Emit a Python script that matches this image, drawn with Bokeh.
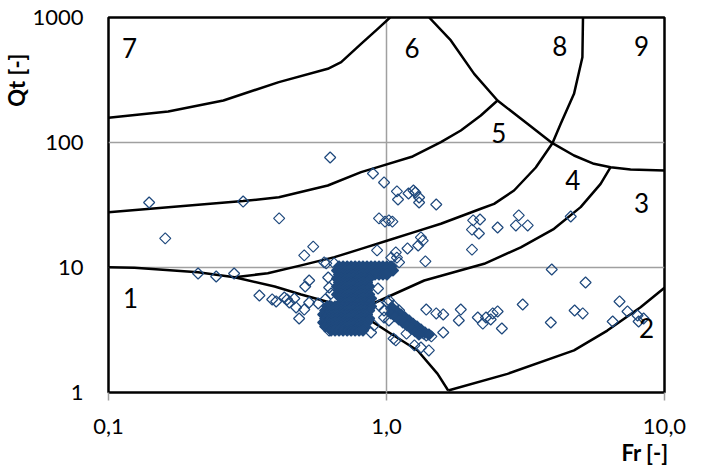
import math
from bokeh.plotting import figure
from bokeh.models import FixedTicker, Title
from bokeh.embed import file_html
from bokeh.resources import INLINE
from bokeh.core.properties import value

# ---- zone boundary curves (Fr [-], Qt [-]) ----
c67_fr = [0.1, 0.164, 0.259, 0.410, 0.615, 0.687, 0.810, 0.930, 1.03]
c67_qt = [158, 177, 217, 304, 389, 439, 616, 812, 1000]

c56_fr = [0.1, 0.305, 0.410, 0.615, 0.810, 0.930, 1.242, 1.569, 1.851, 2.184, 2.508]
c56_qt = [27.7, 34.0, 36.5, 45.3, 57.9, 63.5, 77.3, 100.6, 124.7, 164.4, 216.8]

c68_fr = [1.424, 1.704, 2.067, 2.508, 3.214, 3.952, 4.726, 5.573, 6.400, 7.549, 10.0]
c68_qt = [1000, 655, 354, 216.8, 141.1, 98.7, 78.7, 67.5, 63.5, 60.8, 59.7]

c45_fr = [0.284, 0.374, 0.493, 0.650, 0.810, 1.023, 1.258, 1.569, 2.184, 2.438,
          2.876, 3.443, 3.952, 4.233, 4.726, 5.066, 5.091]
c45_qt = [8.36, 9.00, 10.4, 12.1, 14.1, 16.6, 19.2, 22.4, 29.5, 32.3,
          41.3, 63.1, 98.7, 141.1, 245, 481, 1000]

c34_fr = [0.746, 0.904, 1.367, 2.245, 3.041, 4.005, 4.993, 5.891, 6.400]
c34_qt = [4.53, 5.20, 7.87, 10.7, 14.5, 20.4, 30.4, 46.7, 63.5]

c23_fr = [1.667, 2.724, 4.726, 6.228, 8.202, 10.0]
c23_qt = [1.037, 1.41, 2.17, 3.13, 4.81, 6.88]

c1_fr = [0.1, 0.124, 0.210, 0.284, 0.396, 0.493, 0.650, 0.856, 1.038, 1.294, 1.527, 1.667]
c1_qt = [10.06, 9.95, 9.17, 8.36, 7.05, 6.08, 5.13, 3.89, 2.95, 2.17, 1.41, 1.037]

# ---- zone numbers ----
zone_text = ["1", "2", "3", "4", "5", "6", "7", "8", "9"]
zone_fr = [0.120, 8.62, 8.27, 4.675, 2.535, 1.235, 0.119, 4.198, 8.27]
zone_qt = [5.75, 3.31, 33.1, 49.7, 120, 575, 575, 597, 597]

# ---- scattered CPT points ----
pts_fr = [0.140, 0.305, 0.411, 0.160, 0.506, 0.210, 0.244, 0.283, 0.627, 0.894,
          0.980, 0.940, 0.988, 1.02, 0.545, 0.925, 0.597, 0.648,
          1.09, 1.10, 1.20, 1.25, 1.27, 1.31, 1.31, 1.51, 1.05, 2.05,
          2.17, 2.03, 2.15, 2.51, 2.99, 2.92, 3.22, 2.03,
          1.33, 1.35, 1.30, 1.19, 1.08, 1.09, 1.04, 1.38, 1.11,
          4.60, 3.93, 5.20, 3.09, 3.90, 4.75, 5.08, 6.89, 7.36, 6.51, 8.00, 8.07, 8.41,
          1.39, 1.51, 1.60, 1.85, 1.82, 1.60, 2.13, 2.22, 2.28, 2.37, 2.41, 2.51, 2.60,
          0.932, 1.02, 1.06, 1.08, 1.42,
          1.04, 1.08, 1.13, 1.18, 1.23, 1.28, 1.33, 1.39, 1.45, 1.06, 1.11, 1.16,
          1.21, 1.26, 1.31, 1.36, 0.98,
          1.26, 1.33, 1.18,
          0.349, 0.388, 0.401, 0.429, 0.439, 0.447, 0.466, 0.473, 0.485, 0.506,
          0.527, 0.568, 0.602, 0.510, 0.527, 0.607, 0.617, 0.622, 0.632, 0.622,
          1.01, 0.980, 0.902, 0.880, 0.940, 1.02]
pts_qt = [33.1, 33.7, 24.7, 17.1, 12.5, 8.95, 8.47, 8.95, 75.9, 56.5,
          47.9, 24.7, 23.3, 23.8, 14.7, 13.7, 11.0, 10.8,
          40.6, 35.0, 39.1, 41.3, 39.8, 36.3, 33.1, 31.9, 23.3, 23.8,
          24.2, 20.1, 18.7, 20.9, 26.1, 21.7, 21.7, 13.9,
          17.4, 16.4, 15.0, 14.2, 13.2, 12.0, 12.0, 11.2, 11.0,
          25.6, 9.64, 7.59, 5.06, 3.63, 4.53, 4.29, 5.35, 4.45, 3.70, 4.13, 3.70, 3.91,
          4.61, 4.29, 4.21, 4.61, 3.77, 3.02, 3.98, 3.56, 3.98, 3.84, 4.29, 4.45, 3.25,
          6.79, 5.45, 2.70, 2.61, 2.17,
          4.70, 4.37, 4.13, 3.77, 3.44, 3.25, 3.02, 2.86, 2.81, 4.97, 4.53, 3.98,
          3.63, 3.31, 3.13, 2.96, 4.53,
          2.38, 2.29, 2.96,
          5.97, 5.55, 5.35, 5.75, 5.55, 5.25, 5.65, 4.79, 3.91, 4.61,
          5.25, 5.15, 5.55, 7.05, 7.87, 10.8, 8.32, 6.92, 6.19, 3.13,
          5.25, 3.98, 3.44, 3.02, 4.97, 3.77]

# ---- dense cluster of points (rows of equal Qt) ----
blob_qt = [10.19, 9.46, 8.79, 8.17, 7.59, 7.05, 6.55, 6.08, 5.65, 5.25,
           4.88, 4.53, 4.21, 3.91, 3.63, 3.37, 3.13]
blob_fr = [
    [0.675, 0.698, 0.722, 0.746, 0.771, 0.797, 0.823, 0.851, 0.880, 0.909, 0.940, 0.971, 1.004, 1.038],
    [0.664, 0.687, 0.710, 0.733, 0.758, 0.784, 0.810, 0.837, 0.866, 0.894, 0.925, 0.956, 0.988, 1.021, 1.055],
    [0.675, 0.698, 0.722, 0.746, 0.771, 0.797, 0.823, 0.851, 0.880, 0.909, 0.940, 0.971, 1.004],
    [0.664, 0.687, 0.710, 0.733, 0.758, 0.784, 0.810, 0.837, 0.866],
    [0.675, 0.698, 0.722, 0.746, 0.771, 0.797, 0.823, 0.851],
    [0.664, 0.687, 0.710, 0.733, 0.758, 0.784, 0.810, 0.837, 0.866],
    [0.675, 0.698, 0.722, 0.746, 0.771, 0.797, 0.823, 0.851],
    [0.664, 0.687, 0.710, 0.733, 0.758, 0.784, 0.810, 0.837, 0.866],
    [0.698, 0.722, 0.746, 0.771, 0.797, 0.823, 0.851, 0.880],
    [0.687, 0.710, 0.733, 0.758, 0.784, 0.810, 0.837, 0.866],
    [0.612, 0.632, 0.653, 0.675, 0.698, 0.722, 0.746, 0.771, 0.797, 0.823, 0.851, 0.880],
    [0.602, 0.622, 0.643, 0.664, 0.687, 0.710, 0.733, 0.758, 0.784, 0.810, 0.837, 0.866],
    [0.592, 0.612, 0.632, 0.653, 0.675, 0.698, 0.722, 0.746, 0.771, 0.797, 0.823, 0.851],
    [0.602, 0.622, 0.643, 0.664, 0.687, 0.710, 0.733, 0.758, 0.784, 0.810, 0.837, 0.866],
    [0.592, 0.612, 0.632, 0.653, 0.675, 0.698, 0.722, 0.746, 0.771, 0.797, 0.823, 0.851],
    [0.602, 0.622, 0.643, 0.664, 0.687, 0.710, 0.733, 0.758, 0.784, 0.810, 0.837],
    [0.632, 0.653, 0.675, 0.698, 0.722, 0.746, 0.771, 0.797, 0.823],
]

# ---- dense streak of points right of the cluster ----
streak_fr = [1.055, 1.091, 1.127, 1.165, 1.205, 1.245, 1.287, 1.330, 1.375, 1.421,
             1.038, 1.073, 1.109, 1.146, 1.185, 1.225, 1.266, 1.308]
streak_qt = [4.70, 4.45, 4.21, 3.98, 3.77, 3.56, 3.37, 3.19, 3.02, 2.91,
             4.29, 4.06, 3.84, 3.63, 3.44, 3.25, 3.08, 2.91]

dense_fr = list(streak_fr)
dense_qt = list(streak_qt)
for q, row in zip(blob_qt, blob_fr):
    dense_fr.extend(row)
    dense_qt.extend([q] * len(row))

FONT = "Lato"
BLUE = "#1F497D"
GRID = "#A0A0A0"

p = figure(width=704, height=473, x_axis_type="log", y_axis_type="log",
           x_range=(0.1, 10), y_range=(1, 1000),
           output_backend="svg", toolbar_location=None,
           min_border_left=107, min_border_right=40,
           min_border_top=17, min_border_bottom=81)
p.background_fill_color = "white"
p.border_fill_color = "white"
p.outline_line_color = "black"
p.outline_line_width = 2.5

p.xaxis.ticker = FixedTicker(ticks=[0.1, 1, 10])
p.yaxis.ticker = FixedTicker(ticks=[1, 10, 100, 1000])
p.xaxis.major_label_overrides = {0.1: "0,1", 1: "1,0", 10: "10,0"}
p.yaxis.major_label_overrides = {1: "1", 10: "10", 100: "100", 1000: "1000"}
p.axis.axis_line_color = None
p.axis.minor_tick_line_color = None
p.axis.major_label_text_font = FONT
p.axis.major_label_text_font_size = "22px"
p.axis.major_label_text_color = "black"
p.xaxis.major_tick_line_color = GRID
p.xaxis.major_tick_line_width = 1.5
p.xaxis.major_tick_out = 8
p.xaxis.major_tick_in = 0
p.xaxis.major_label_standoff = 18
p.yaxis.major_tick_line_color = None
p.yaxis.major_tick_out = 0
p.yaxis.major_tick_in = 0
p.yaxis.major_label_standoff = 25
p.grid.grid_line_color = GRID
p.grid.grid_line_width = 1.5

for cx, cy in [(c67_fr, c67_qt), (c56_fr, c56_qt), (c68_fr, c68_qt), (c45_fr, c45_qt),
               (c34_fr, c34_qt), (c23_fr, c23_qt), (c1_fr, c1_qt)]:
    p.line(cx, cy, line_color="black", line_width=2.5, line_join="round")

p.scatter(pts_fr, pts_qt, marker="square", size=7.8, angle=math.pi / 4,
          fill_color=None, line_color=BLUE, line_width=1.2)
p.scatter(dense_fr, dense_qt, marker="square", size=7.8, angle=math.pi / 4,
          fill_color=BLUE, line_color=BLUE, line_width=1.2)

p.text(x=zone_fr, y=zone_qt, text=zone_text, text_font=value(FONT),
       text_font_size="26px", text_align="center", text_baseline="middle",
       text_color="black")

p.add_layout(Title(text="Fr [-]", align="right", offset=-4, standoff=0,
                   text_font=FONT, text_font_size="22px", text_font_style="bold",
                   text_color="black"), "below")
p.add_layout(Title(text="Qt [-]", align="right", offset=36, standoff=0,
                   text_font=FONT, text_font_size="22px", text_font_style="bold",
                   text_color="black"), "left")

open("out.html", "w").write(file_html(p, INLINE))
